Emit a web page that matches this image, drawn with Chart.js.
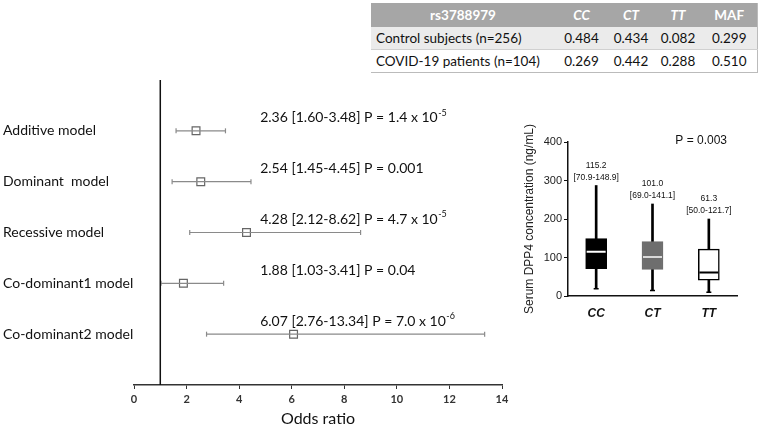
<!DOCTYPE html>
<html>
<head>
<meta charset="utf-8">
<script src="https://cdn.jsdelivr.net/npm/chart.js@4.4.1/dist/chart.umd.min.js"></script>
<style>
  html, body { margin: 0; padding: 0; background: #fff; }
  body { width: 758px; height: 432px; overflow: hidden; position: relative; font-family: Lato, sans-serif; }
  #tbl { position: absolute; left: 371px; top: 3px; width: 386px; border-collapse: collapse; font-size: 13.5px; color: #111; table-layout: fixed; }
  #tbl th { background: #a6a6a6; color: #fff; font-weight: bold; height: 24px; padding: 0; text-align: center; }
  #tbl td { height: 22px; padding: 0; text-align: center; border-bottom: 1px solid #d0d0d0; }
  #tbl td:first-child { text-align: left; padding-left: 5px; }
  #tbl tr:last-child td { border-bottom: 1px solid #bbb; }
  #tbl tr.shade td { background: #ebebeb; }
  #tbl tr td:last-child, #tbl tr th:last-child { border-right: 1px solid #bbb; }
  #forestWrap { position: absolute; left: 0; top: 60px; width: 520px; height: 372px; }
  #boxWrap { position: absolute; left: 490px; top: 110px; width: 268px; height: 220px; }
</style>
</head>
<body>
<table id="tbl"></table>
<div id="forestWrap"><canvas id="forest"></canvas></div>
<div id="boxWrap"><canvas id="boxplot"></canvas></div>

<script>
// genotype frequency table
const tableHead = ["rs3788979", "CC", "CT", "TT", "MAF"];
const groups = ["Control subjects (n=256)", "COVID-19 patients (n=104)"];
const controlFreq = [0.484, 0.434, 0.082, 0.299];
const covidFreq = [0.269, 0.442, 0.288, 0.510];

// forest plot
const models = ["Additive model", "Dominant  model", "Recessive model", "Co-dominant1 model", "Co-dominant2 model"];
const oddsRatio = [2.36, 2.54, 4.28, 1.88, 6.07];
const ciLow = [1.60, 1.45, 2.12, 1.03, 2.76];
const ciHigh = [3.48, 4.45, 8.62, 3.41, 13.34];
const pValue = ["1.4 x 10", "0.001", "4.7 x 10", "0.04", "7.0 x 10"];
const pExp = ["-5", "", "-5", "", "-6"];
const orTicks = [0, 2, 4, 6, 8, 10, 12, 14];

// serum DPP4 box plot
const genotypes = ["CC", "CT", "TT"];
const boxLow = [70.9, 69.0, 41];
const boxHigh = [148.9, 141.1, 121.7];
const medians = [115.2, 101.0, 61.3];
const whiskerLow = [19, 14, 10];
const whiskerHigh = [287, 239, 200];
const medianText = ["115.2", "101.0", "61.3"];
const iqrText = ["[70.9-148.9]", "[69.0-141.1]", "[50.0-121.7]"];
const dppTicks = [0, 100, 200, 300, 400];

// ---- table ----
const tbl = document.getElementById("tbl");
const widths = [184, 53, 46, 48, 55];
let html = "<colgroup>" + widths.map(w => `<col style="width:${w}px">`).join("") + "</colgroup>";
html += "<tr>" + tableHead.map((h, i) => `<th${i >= 1 && i <= 3 ? ' style="font-style:italic"' : ""}>${h}</th>`).join("") + "</tr>";
[controlFreq, covidFreq].forEach((row, r) => {
    html += `<tr${r === 0 ? ' class="shade"' : ""}><td>${groups[r]}</td>` + row.map(v => `<td>${v.toFixed(3)}</td>`).join("") + "</tr>";
});
tbl.innerHTML = html;

// ---- forest plot ----
const forestSets = [];
// reference line at OR = 1
forestSets.push({
    type: "line",
    data: [{ x: 1, y: 0 }, { x: 1, y: 6 }],
    borderColor: "#111", borderWidth: 1.5, pointRadius: 0
});
models.forEach((m, i) => {
    forestSets.push({
        type: "line",
        data: [{ x: ciLow[i], y: i + 1 }, { x: ciHigh[i], y: i + 1 }],
        borderColor: "#8a8a8a", borderWidth: 1.2,
        pointStyle: "line", rotation: 90, pointRadius: 2.5,
        pointBorderColor: "#8a8a8a", pointBorderWidth: 1.2
    });
});
forestSets.push({
    type: "scatter",
    data: oddsRatio.map((v, i) => ({ x: v, y: i + 1 })),
    pointStyle: "rect", pointRadius: 5.5,
    backgroundColor: "#fff", borderColor: "#666", borderWidth: 1.2
});

const forestText = {
    id: "forestText",
    afterDatasetsDraw(chart) {
        const { ctx, scales } = chart;
        ctx.save();
        ctx.fillStyle = "#111";
        ctx.textBaseline = "middle";
        models.forEach((m, i) => {
            const x = scales.x.getPixelForValue(4.8);
            const y = scales.y.getPixelForValue(i + 1) - 13;
            const txt = `${oddsRatio[i].toFixed(2)} [${ciLow[i].toFixed(2)}-${ciHigh[i].toFixed(2)}] P = ${pValue[i]}`;
            ctx.font = "14px Lato";
            ctx.fillText(txt, x, y);
            if (pExp[i]) {
                const w = ctx.measureText(txt).width;
                ctx.font = "9px Lato";
                ctx.fillText(pExp[i], x + w + 0.5, y - 5);
            }
        });
        ctx.restore();
    }
};

new Chart(document.getElementById("forest"), {
    type: "scatter",
    data: { datasets: forestSets },
    options: {
        responsive: true,
        maintainAspectRatio: false,
        animation: false,
        layout: { padding: { left: 3, right: 18, top: 20, bottom: 0 } },
        plugins: { legend: { display: false }, tooltip: { enabled: false } },
        scales: {
            x: {
                type: "linear", min: 0, max: 14,
                afterBuildTicks: (s) => { s.ticks = orTicks.map(v => ({ value: v })); },
                ticks: { font: { family: "Lato", size: 11, weight: "bold" }, color: "#333", padding: 4 },
                grid: { drawOnChartArea: false, tickLength: 4, color: "#333" },
                border: { color: "#333", width: 1.5 },
                title: { display: true, text: "Odds ratio", font: { family: "Lato", size: 16 }, color: "#111", padding: { top: 4, bottom: 4 } },
                afterFit: (s) => { s.height = 47; }
            },
            y: {
                type: "linear", min: 0, max: 6, reverse: true,
                ticks: {
                    stepSize: 1, crossAlign: "far",
                    callback: (v) => models[v - 1] || "",
                    font: { family: "Lato", size: 14 }, color: "#111"
                },
                grid: { display: false },
                border: { display: false },
                afterFit: (s) => { s.width = 131; }
            }
        }
    },
    plugins: [forestText]
});

// ---- box plot ----
const boxText = {
    id: "boxText",
    afterDatasetsDraw(chart) {
        const { ctx, scales, chartArea } = chart;
        ctx.save();
        ctx.fillStyle = "#111";
        ctx.textAlign = "center";
        ctx.textBaseline = "middle";
        ctx.font = "8.5px 'Liberation Sans'";
        genotypes.forEach((g, i) => {
            const x = scales.x.getPixelForValue(i);
            const top = scales.y.getPixelForValue(whiskerHigh[i]);
            ctx.fillText(iqrText[i], x, top - 8);
            ctx.fillText(medianText[i], x, top - 20);
        });
        ctx.font = "12px 'Liberation Sans'";
        ctx.textAlign = "right";
        ctx.fillText("P = 0.003", chartArea.right - 10, chartArea.top - 1);
        ctx.restore();
    }
};

new Chart(document.getElementById("boxplot"), {
    type: "bar",
    data: {
        labels: genotypes,
        datasets: [
            {
                type: "line", data: medians, showLine: false,
                pointStyle: "line", pointRadius: 9.5, pointBorderWidth: 2,
                pointBorderColor: ["#fff", "#d9d9d9", "#000"], order: 1
            },
            {
                type: "line", data: whiskerLow, showLine: false,
                pointStyle: "line", pointRadius: 2.5, pointBorderWidth: 1.5,
                pointBorderColor: "#000", order: 1
            },
            {
                data: genotypes.map((g, i) => [boxLow[i], boxHigh[i]]),
                backgroundColor: ["#000", "#6e6e6e", "#fff"],
                borderColor: ["#000", "#6e6e6e", "#000"],
                borderWidth: 1.5, borderSkipped: false,
                barThickness: 21, grouped: false, order: 2
            },
            {
                data: genotypes.map((g, i) => [whiskerLow[i], whiskerHigh[i]]),
                backgroundColor: "#000",
                barThickness: 2, grouped: false, order: 3
            }
        ]
    },
    options: {
        responsive: true,
        maintainAspectRatio: false,
        animation: false,
        layout: { padding: { left: 32, right: 21, top: 32, bottom: 0 } },
        plugins: { legend: { display: false }, tooltip: { enabled: false } },
        scales: {
            x: {
                ticks: { font: { family: "Liberation Sans", size: 12, style: "italic", weight: "bold" }, color: "#111", padding: 10 },
                grid: { display: false, drawTicks: false },
                border: { color: "#111", width: 1.5 },
                afterFit: (s) => { s.height = 34; }
            },
            y: {
                min: 0, max: 400,
                afterBuildTicks: (s) => { s.ticks = dppTicks.map(v => ({ value: v })); },
                ticks: { font: { family: "Liberation Sans", size: 11 }, color: "#222", padding: 2 },
                grid: { drawOnChartArea: false, tickLength: 4, color: "#111" },
                border: { color: "#111", width: 1.5 },
                title: { display: true, text: "Serum DPP4 concentration (ng/mL)", font: { family: "Liberation Sans", size: 12 }, color: "#222", padding: { top: 0, bottom: 0 } },
                afterFit: (s) => { s.width = 46; }
            }
        }
    },
    plugins: [boxText]
});
</script>
</body>
</html>
